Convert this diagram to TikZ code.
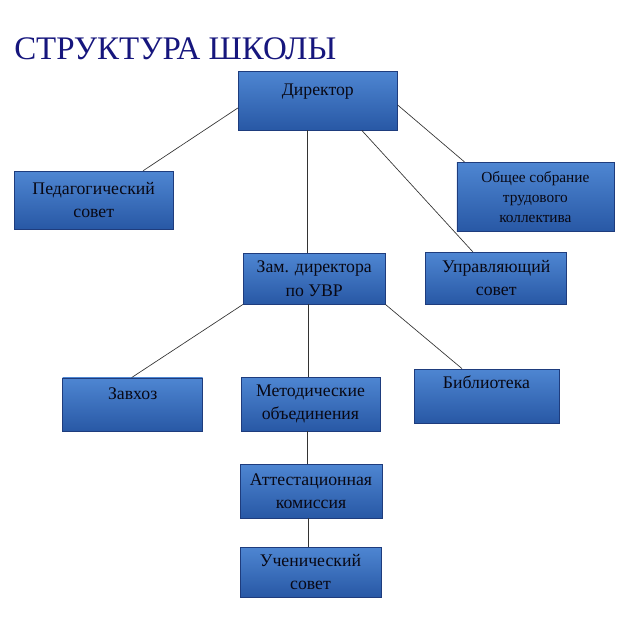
\documentclass[tikz,border=0pt]{standalone}
\usepackage{fontspec}
\setmainfont{Liberation Serif}
\newfontfamily\boxfont{Liberation Serif}[Color=080814]
\definecolor{boxtop}{RGB}{78,134,210}
\definecolor{boxbot}{RGB}{40,88,165}
\definecolor{boxline}{RGB}{30,60,125}
\definecolor{titleblue}{RGB}{22,22,125}
\begin{document}
\begin{tikzpicture}[x=0.75pt,y=-0.75pt,
    box/.style={draw=boxline, line width=0.6pt, top color=boxtop, bottom color=boxbot,
        align=center, inner sep=0pt, font=\boxfont\fontsize{13.3}{17.5}\selectfont},
    link/.style={draw=black!80, line width=0.5pt}]
    \useasboundingbox (0,0) rectangle (628,621);
    \node[anchor=base west, inner sep=0pt, text=titleblue, font=\fontsize{24.7}{30}\selectfont] (title) at (14,59.5) {СТРУКТУРА ШКОЛЫ};

    \node[box, minimum width=119.25pt, text height=18pt, text depth=26.25pt] (dir) at (317.8,100.5) {Директор};
    \node[box, minimum width=119.5pt, minimum height=43.5pt] (ped) at (93.7,200.2) {Педагогический\\совет};
    \node[box, minimum width=117.75pt, minimum height=52pt, font=\boxfont\fontsize{11.5}{15}\selectfont] (obs) at (535.4,197) {Общее собрание\\трудового\\коллектива};
    \node[box, minimum width=106.25pt, minimum height=38pt] (zam) at (314.2,278.7) {Зам. директора\\по УВР};
    \node[box, minimum width=105.75pt, minimum height=39pt] (upr) at (496.2,278.3) {Управляющий\\совет};
    \node[box, minimum width=105pt, text height=16.5pt, text depth=23.6pt] (zav) at (132.7,404.7) {Завхоз};
    \node[box, minimum width=104.25pt, minimum height=40.5pt] (met) at (310.5,404) {Методические\\объединения};
    \node[box, minimum width=108.75pt, text height=14.6pt, text depth=25.9pt] (bib) at (486.5,396) {Библиотека};
    \node[box, minimum width=106.5pt, minimum height=40.5pt] (att) at (311,491) {Аттестационная\\комиссия};
    \node[box, minimum width=105.75pt, minimum height=37.5pt] (uch) at (310.5,572) {Ученический\\совет};

    \draw[link] ([yshift=-5.6pt]dir.west) -- ([xshift=37pt]ped.north);
    \draw[link] ([xshift=-7.6pt]dir.south) -- ([xshift=-7.6pt]dir.south |- zam.north);
    \draw[link] ([xshift=33pt]dir.south) -- ([xshift=-17.5pt]upr.north);
    \draw[link] ([yshift=-3.4pt]dir.east) -- ([xshift=6pt]obs.north west);
    \draw[link] (zam.south west) -- ([xshift=-0.8pt]zav.north);
    \draw[link] ([xshift=-4.5pt]zam.south) -- ([xshift=-4.5pt]zam.south |- met.north);
    \draw[link] (zam.south east) -- ([xshift=-18.4pt]bib.north);
    \draw[link] ([xshift=-2.4pt]met.south) -- ([xshift=-2.4pt]met.south |- att.north);
    \draw[link] ([xshift=-2.2pt]att.south) -- ([xshift=-2.2pt]att.south |- uch.north);
\end{tikzpicture}
\end{document}
